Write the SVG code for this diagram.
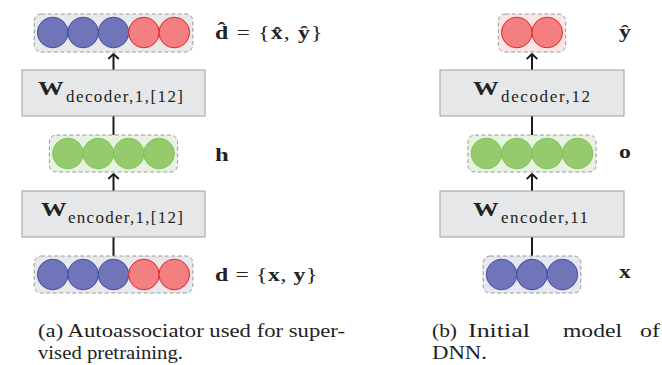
<svg xmlns="http://www.w3.org/2000/svg" width="662" height="365" viewBox="0 0 662 365">
<style>
.cont{stroke:#9a9a9a;stroke-width:1;stroke-dasharray:4 2.5}
.gray{fill:#e9e9eb}.cg{fill:#e8f2e1}.cr{fill:#fce5e5}.cb{fill:#e7e7f2}
.b{fill:#7074b9;stroke:#3d4fa3;stroke-width:1}
.r{fill:#f47f80;stroke:#e8222c;stroke-width:1}
.g{fill:#96ca6d;stroke:#7cc45c;stroke-width:1}
.box{fill:#e6e7e9;stroke:#9d9d9d;stroke-width:1}
.W{font-family:"Liberation Serif","Times New Roman",serif;font-weight:bold;font-size:19px;fill:#222}
.sub{font-family:"Liberation Serif","Times New Roman",serif;font-size:17px;fill:#222}
.lbl{font-family:"Liberation Serif","Times New Roman",serif;font-size:19px;fill:#222}
.bf{font-weight:bold}
.cap{font-family:"Liberation Serif","Times New Roman",serif;font-size:19.5px;fill:#222}
.conn{stroke:#1a1a1a;stroke-width:2;fill:none}
</style>
<defs>
<marker id="ah" viewBox="-6 -6 12 12" refX="0" refY="0" markerWidth="12" markerHeight="12" markerUnits="userSpaceOnUse" orient="auto">
<path d="M-4.5,-4.8 L0,0 L-4.5,4.8" fill="none" stroke="#1a1a1a" stroke-width="1.8" stroke-linecap="round" stroke-linejoin="round"/>
</marker>
</defs>

<g id="connectors">
<line class="conn" x1="113.5" y1="70" x2="113.5" y2="54" marker-end="url(#ah)"/>
<line class="conn" x1="113.5" y1="135" x2="113.5" y2="116"/>
<line class="conn" x1="113.5" y1="191" x2="113.5" y2="174" marker-end="url(#ah)"/>
<line class="conn" x1="113.5" y1="256" x2="113.5" y2="237"/>
<line class="conn" x1="532" y1="70" x2="532" y2="54" marker-end="url(#ah)"/>
<line class="conn" x1="532" y1="135" x2="532" y2="116"/>
<line class="conn" x1="532" y1="191" x2="532" y2="174" marker-end="url(#ah)"/>
<line class="conn" x1="532" y1="256" x2="532" y2="237"/>
</g>

<!-- Left: autoassociator -->
<g id="d_hat">
<rect class="cont gray" x="34.2" y="14" width="158.6" height="38" rx="7"/>
<circle class="b" cx="52.7" cy="32.5" r="15.3"/>
<circle class="b" cx="83.1" cy="32.5" r="15.3"/>
<circle class="b" cx="113.5" cy="32.5" r="15.3"/>
<circle class="r" cx="143.9" cy="32.5" r="15.3"/>
<circle class="r" cx="174.3" cy="32.5" r="15.3"/>
<text class="lbl" transform="translate(215,39) scale(1.25,1)" textLength="86" lengthAdjust="spacing"><tspan class="bf">d&#x302;</tspan> = {<tspan class="bf">x&#x302;</tspan>,<tspan class="bf"> &#x177;</tspan>}</text>
</g>

<g id="W_decoder_1">
<rect class="box" x="22" y="70" width="183" height="46"/>
<text class="W" transform="translate(38,95) scale(1.35,1)">W</text>
<text class="sub" x="66" y="102" textLength="117" lengthAdjust="spacing">decoder,1,[12]</text>
</g>

<g id="h">
<rect class="cont cg" x="49.4" y="135" width="128.2" height="37" rx="7"/>
<circle class="g" cx="67.9" cy="153.5" r="15.3"/>
<circle class="g" cx="98.3" cy="153.5" r="15.3"/>
<circle class="g" cx="128.7" cy="153.5" r="15.3"/>
<circle class="g" cx="159.1" cy="153.5" r="15.3"/>
<text class="lbl bf" transform="translate(215,161) scale(1.3,1)">h</text>
</g>

<g id="W_encoder_1">
<rect class="box" x="22" y="191" width="183" height="46"/>
<text class="W" transform="translate(41,216) scale(1.35,1)">W</text>
<text class="sub" x="68" y="223" textLength="115" lengthAdjust="spacing">encoder,1,[12]</text>
</g>

<g id="d">
<rect class="cont gray" x="34.2" y="256" width="158.6" height="37" rx="7"/>
<circle class="b" cx="52.7" cy="274.5" r="15.3"/>
<circle class="b" cx="83.1" cy="274.5" r="15.3"/>
<circle class="b" cx="113.5" cy="274.5" r="15.3"/>
<circle class="r" cx="143.9" cy="274.5" r="15.3"/>
<circle class="r" cx="174.3" cy="274.5" r="15.3"/>
<text class="lbl" transform="translate(215,281) scale(1.25,1)" textLength="82" lengthAdjust="spacing"><tspan class="bf">d</tspan> = {<tspan class="bf">x</tspan>,<tspan class="bf"> y</tspan>}</text>
</g>

<!-- Right: DNN -->
<g id="y_hat">
<rect class="cont cr" x="498.3" y="14" width="67.4" height="38" rx="7"/>
<circle class="r" cx="516.8" cy="32.5" r="15.3"/>
<circle class="r" cx="547.2" cy="32.5" r="15.3"/>
<text class="lbl bf" transform="translate(619,38) scale(1.25,1)">&#x177;</text>
</g>

<g id="W_decoder_12">
<rect class="box" x="440" y="70" width="184" height="46"/>
<text class="W" transform="translate(473,95) scale(1.35,1)">W</text>
<text class="sub" x="501" y="102" textLength="89" lengthAdjust="spacing">decoder,12</text>
</g>

<g id="o">
<rect class="cont cg" x="467.9" y="135" width="128.2" height="37" rx="7"/>
<circle class="g" cx="486.4" cy="153.5" r="15.3"/>
<circle class="g" cx="516.8" cy="153.5" r="15.3"/>
<circle class="g" cx="547.2" cy="153.5" r="15.3"/>
<circle class="g" cx="577.6" cy="153.5" r="15.3"/>
<text class="lbl bf" transform="translate(619,158) scale(1.25,1)">o</text>
</g>

<g id="W_encoder_11">
<rect class="box" x="440" y="191" width="184" height="46"/>
<text class="W" transform="translate(473,216) scale(1.35,1)">W</text>
<text class="sub" x="501" y="223" textLength="87" lengthAdjust="spacing">encoder,11</text>
</g>

<g id="x">
<rect class="cont cb" x="483.1" y="256" width="97.8" height="37" rx="7"/>
<circle class="b" cx="501.6" cy="274.5" r="15.3"/>
<circle class="b" cx="532" cy="274.5" r="15.3"/>
<circle class="b" cx="562.4" cy="274.5" r="15.3"/>
<text class="lbl bf" transform="translate(619,278) scale(1.25,1)">x</text>
</g>

<g id="captions">
<text class="cap" x="38" y="337" textLength="307" lengthAdjust="spacingAndGlyphs">(a) Autoassociator used for super-</text>
<text class="cap" x="38" y="359" textLength="145" lengthAdjust="spacingAndGlyphs">vised pretraining.</text>
<text class="cap" x="432" y="337" textLength="25" lengthAdjust="spacingAndGlyphs">(b)</text>
<text class="cap" x="468" y="337" textLength="62" lengthAdjust="spacingAndGlyphs">Initial</text>
<text class="cap" x="563" y="337" textLength="59" lengthAdjust="spacingAndGlyphs">model</text>
<text class="cap" x="640" y="337" textLength="20" lengthAdjust="spacingAndGlyphs">of</text>
<text class="cap" x="432" y="359" textLength="55" lengthAdjust="spacingAndGlyphs">DNN.</text>
</g>
</svg>
